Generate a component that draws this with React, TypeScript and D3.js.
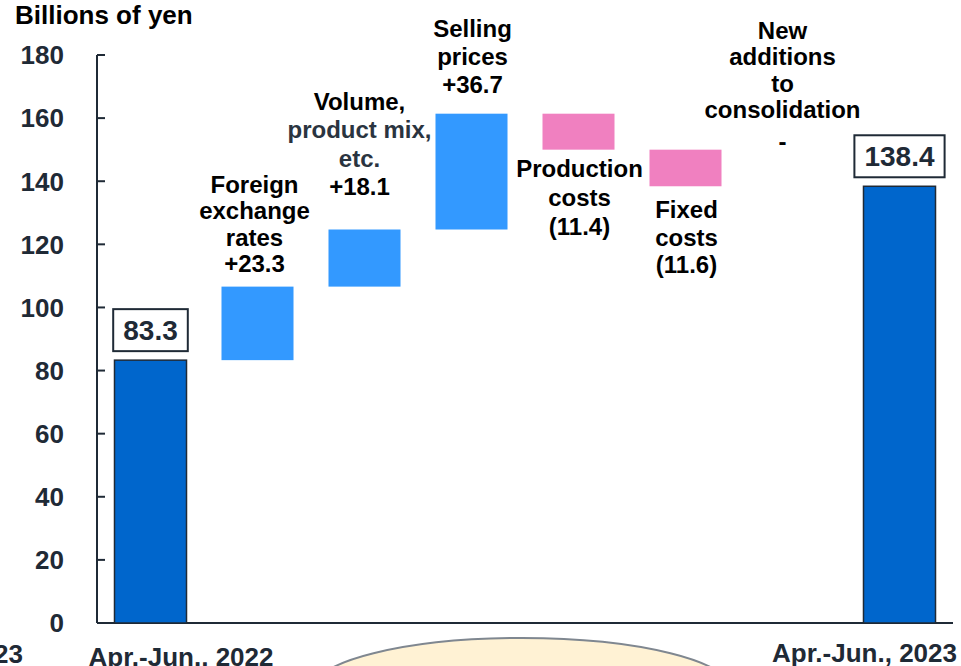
import React from "react";
import * as d3 from "d3";

const categories = [
  "Apr.-Jun., 2022",
  "Foreign exchange rates",
  "Volume, product mix, etc.",
  "Selling prices",
  "Production costs",
  "Fixed costs",
  "New additions to consolidation",
  "Apr.-Jun., 2023",
];
const values = [83.3, 23.3, 18.1, 36.7, -11.4, -11.6, 0, 138.4];
const kinds = ["total", "inc", "inc", "inc", "dec", "dec", "none", "total"];
const yTicks = [0, 20, 40, 60, 80, 100, 120, 140, 160, 180];

const labelLines: string[][] = [
  [],
  ["Foreign", "exchange", "rates", "+23.3"],
  ["Volume,", "product mix,", "etc.", "+18.1"],
  ["Selling", "prices", "+36.7"],
  ["Production", "costs", "(11.4)"],
  ["Fixed", "costs", "(11.6)"],
  ["New", "additions", "to", "consolidation"],
  [],
];

// layout (pixels) for the annotation text blocks
const labelLayout = [
  null,
  { dx: -3, y0: 193, lh: 26.4 },
  { dx: -5, y0: 110, lh: 28.3 },
  { dx: 1, y0: 37, lh: 28 },
  { dx: 1, y0: 177, lh: 29 },
  { dx: 1, y0: 218, lh: 27.5 },
  { dx: -10, y0: 39, lh: 26.4 },
  null,
];

const W = 961;
const H = 666;
const FONT = "'Liberation Sans', Arial, sans-serif";
const DARK = "#1f2a36";

export default function App() {
  const x = d3
    .scaleBand<string>()
    .domain(categories)
    .range([97, 953])
    .paddingInner(0.327)
    .paddingOuter(0.1635);
  const y = d3.scaleLinear().domain([0, 180]).range([623, 55]);

  // waterfall segments
  let run = 0;
  const segs = values.map((v, i) => {
    const k = kinds[i];
    let lo = 0,
      hi = 0;
    if (k === "total") {
      lo = 0;
      hi = v;
      run = v;
    } else {
      const start = run;
      run = run + v;
      lo = Math.min(start, run);
      hi = Math.max(start, run);
    }
    return { cat: categories[i], lo, hi, kind: k, v };
  });

  const fill = (k: string) =>
    k === "total" ? "#0066CC" : k === "inc" ? "#3399FF" : "#F080C0";

  const boxW = (s: string) =>
    s.split("").reduce((a, c) => a + (c === "." ? 7.8 : 15.6), 0) + 20;

  return (
    <svg
      width={W}
      height={H}
      style={{ position: "absolute", left: 0, top: 0, background: "#fff" }}
      fontFamily={FONT}
    >
      <rect x={0} y={0} width={W} height={H} fill="#fff" />
      {/* ellipse callout at the bottom */}
      <ellipse cx={522} cy={690} rx={210} ry={52} fill="#FFF2D4" stroke="#7f8790" strokeWidth={2} />

      <text x={15} y={24} fontSize={26} fontWeight="bold" fill="#000">
        Billions of yen
      </text>

      {/* y axis */}
      <line x1={97} x2={97} y1={y(180)} y2={y(0)} stroke={DARK} strokeWidth={2} />
      {yTicks.map((t) => (
        <g key={t}>
          <line x1={97} x2={105} y1={y(t)} y2={y(t)} stroke={DARK} strokeWidth={2} />
          <text
            x={64}
            y={y(t)}
            dy="0.36em"
            textAnchor="end"
            fontSize={26}
            fontWeight="bold"
            fill={DARK}
          >
            {t}
          </text>
        </g>
      ))}
      <line x1={97} x2={953} y1={y(0)} y2={y(0)} stroke={DARK} strokeWidth={2} />

      {/* bars */}
      {segs.map((s) =>
        s.kind === "none" ? null : (
          <rect
            key={s.cat}
            x={x(s.cat)!}
            width={x.bandwidth()}
            y={y(s.hi)}
            height={y(s.lo) - y(s.hi)}
            fill={fill(s.kind)}
            stroke={s.kind === "total" ? DARK : "none"}
            strokeWidth={1.5}
          />
        )
      )}

      {/* value boxes for totals */}
      {segs.map((s) => {
        if (s.kind !== "total") return null;
        const cx = x(s.cat)! + x.bandwidth() / 2;
        const txt = s.v.toFixed(1);
        const bw = boxW(txt);
        const cy = y(s.hi) - 30;
        return (
          <g key={"b" + s.cat}>
            <rect x={cx - bw / 2} y={cy - 21} width={bw} height={42} fill="#fff" stroke={DARK} strokeWidth={2} />
            <text x={cx} y={cy + 10} textAnchor="middle" fontSize={28} fontWeight="bold" fill={DARK}>
              {txt}
            </text>
          </g>
        );
      })}

      {/* annotation labels */}
      {labelLines.map((lines, i) => {
        const L = labelLayout[i];
        if (!L) return null;
        const cx = x(categories[i])! + x.bandwidth() / 2 + L.dx;
        return (
          <text key={"l" + i} textAnchor="middle" fontSize={24} fontWeight="bold">
            {lines.map((ln, j) => (
              <tspan
                key={j}
                x={cx}
                y={L.y0 + j * L.lh}
                fill={i === 2 && (j === 1 || j === 2) ? "#2a3440" : "#000"}
              >
                {ln}
              </tspan>
            ))}
          </text>
        );
      })}
      <text
        x={x(categories[6])! + x.bandwidth() / 2 - 10}
        y={150}
        textAnchor="middle"
        fontSize={24}
        fontWeight="bold"
        fill="#000"
      >
        -
      </text>

      {/* category axis labels */}
      <text x={181} y={666} textAnchor="middle" fontSize={26} fontWeight="bold" fill={DARK}>
        {categories[0]}
      </text>
      <text x={957} y={662} textAnchor="end" fontSize={26} fontWeight="bold" fill={DARK}>
        {categories[7]}
      </text>
      <text x={23} y={663} textAnchor="end" fontSize={26} fontWeight="bold" fill={DARK}>
        23
      </text>
    </svg>
  );
}
